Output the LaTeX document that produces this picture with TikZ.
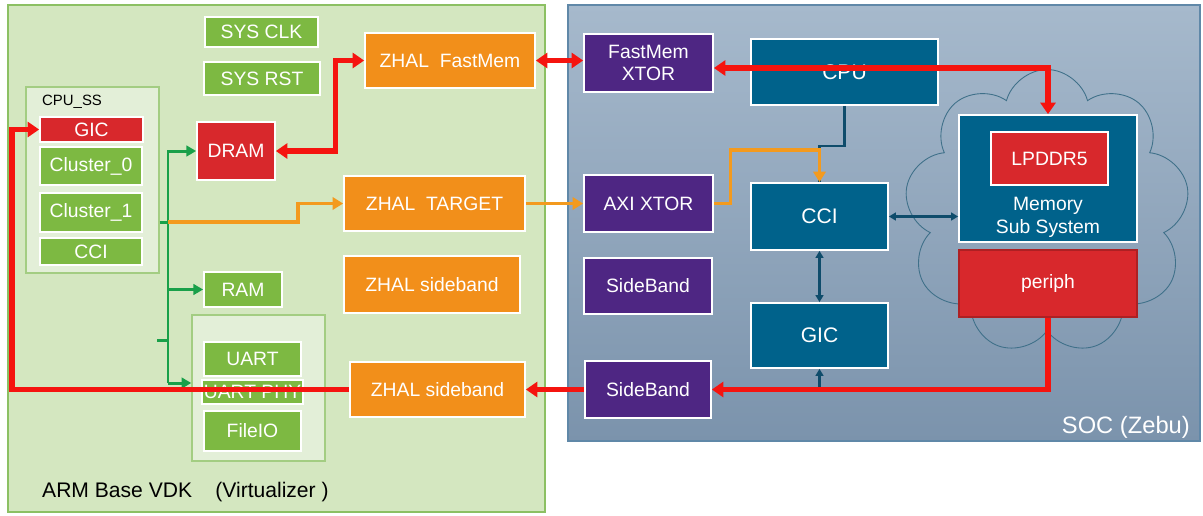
\documentclass[tikz,border=0pt]{standalone}
\usepackage{fontspec}
\setmainfont{Liberation Sans}
\usetikzlibrary{arrows.meta,positioning,calc,shapes.symbols}
\definecolor{Leaf}{HTML}{7DB942}
\definecolor{LeafPale}{HTML}{D4E7C0}
\definecolor{LeafLine}{HTML}{8CC063}
\definecolor{Mint}{HTML}{E3EFD8}
\definecolor{Brick}{HTML}{D8282C}
\definecolor{Amber}{HTML}{F28F1A}
\definecolor{Plum}{HTML}{4E2683}
\definecolor{Deep}{HTML}{00628B}
\definecolor{Navy}{HTML}{0F4C6B}
\definecolor{SkyTop}{HTML}{A6B9CC}
\definecolor{SkyBot}{HTML}{7B93AC}
\definecolor{SkyLine}{HTML}{6088A8}
\definecolor{Bus}{HTML}{19A049}
\definecolor{Wire}{HTML}{F5140F}
\definecolor{Glow}{HTML}{F39A1E}
\tikzset{
  wd/.style={minimum width=#1*0.02cm},
  ht/.style={minimum height=#1*0.02cm},
  blk/.style={draw=white,line width=1pt,text=white,align=center,inner sep=1pt,font=\fontsize{11}{13}\selectfont},
  grn/.style={blk,fill=Leaf},
  hot/.style={blk,fill=Brick},
  org/.style={blk,fill=Amber},
  prp/.style={blk,fill=Plum},
  tl/.style={blk,fill=Deep},
  grp/.style={draw=LeafLine!80,fill=Mint,line width=.8pt},
  redarr/.style={draw=Wire,line width=2.9pt,>={Triangle[length=6.5pt,width=8.5pt]}},
  orgarr/.style={draw=Glow,line width=1.8pt,>={Triangle[length=6pt,width=7pt]}},
  grnarr/.style={draw=Bus,line width=1.7pt,>={Triangle[length=5.5pt,width=6pt]}},
  tlarr/.style={draw=Navy,line width=1.2pt,>={Triangle[length=4pt,width=4.5pt]}}
}
\begin{document}
\begin{tikzpicture}[x=0.02cm,y=-0.02cm]
  \useasboundingbox (0,0) rectangle (1203,515);
  % panels
  \node[draw=LeafLine,fill=LeafPale,line width=1.2pt,wd=537,ht=507] (armp) at (276.5,258.5) {};
  \node[draw=SkyLine,top color=SkyTop,bottom color=SkyBot,line width=1pt,wd=632,ht=436] (socp) at (884,223) {};
  \node[anchor=west,font=\fontsize{12}{14}\selectfont] (armlbl) at (36,492) {ARM Base VDK\hspace{1.1em}(Virtualizer\ )};
  \node[anchor=east,text=white,font=\fontsize{13.5}{16}\selectfont] (soclbl) at (1196,427) {SOC (Zebu)};

  % virtualizer side
  \node[grn,wd=113,ht=30] (clk) at (261.5,32) {SYS CLK};
  \node[grn,wd=116,ht=33] (rst) at (262,78.5) {SYS RST};
  \node[grp,wd=133,ht=186] (cpuss) at (92.5,180) {};
  \node[anchor=west,font=\fontsize{8.5}{10}\selectfont] (sslbl) at (36,102) {CPU\_SS};
  \node[hot,wd=103,ht=25] (gicl) at (91.5,129.5) {GIC};
  \node[grn,wd=102,ht=38] (cl0) at (91,166) {Cluster\_0};
  \node[grn,wd=102,ht=39] (cl1) at (91,212.5) {Cluster\_1};
  \node[grn,wd=102,ht=27] (ccil) at (91,251.5) {CCI};
  \node[hot,wd=78,ht=58] (dram) at (236,151) {DRAM};
  \node[grn,wd=78,ht=35] (ram) at (243,289.5) {RAM};
  \node[grp,wd=133,ht=146] (uartgrp) at (258.5,388) {};
  \node[grn,wd=97,ht=34] (uart) at (252.5,359) {UART};
  \node[grn,wd=97,ht=24] (uphy) at (252.5,392) {UART PHY};
  \node[grn,wd=97,ht=40] (fio) at (252.5,431) {FileIO};
  \node[org,wd=170,ht=55] (zfm) at (450,60.5) {ZHAL\ \ FastMem};
  \node[org,wd=181,ht=55] (ztg) at (434.5,203.5) {ZHAL\ \ TARGET};
  \node[org,wd=176,ht=57] (zsb1) at (432,284.5) {ZHAL sideband};
  \node[org,wd=175,ht=55] (zsb2) at (437.5,389.5) {ZHAL sideband};

  % zebu side
  \node[prp,wd=129,ht=58] (fmx) at (648.5,63) {FastMem\\XTOR};
  \node[prp,wd=129,ht=57] (axi) at (648.5,203.5) {AXI XTOR};
  \node[prp,wd=128,ht=56] (sb1) at (648,286) {SideBand};
  \node[prp,wd=126,ht=57] (sb2) at (648,389.5) {SideBand};
  \node[tl,wd=187,ht=66,font=\fontsize{12}{14}\selectfont] (cpu) at (844.5,72) {\raisebox{-4pt}{CPU}};
  \node[tl,wd=137,ht=67,font=\fontsize{12}{14}\selectfont] (cci) at (819.5,216.5) {CCI};
  \node[tl,wd=137,ht=65,font=\fontsize{12}{14}\selectfont] (gic) at (819.5,335.5) {GIC};
  \node[cloud,cloud puffs=9,aspect=1,draw=Navy!80,line width=.5pt,minimum width=5.7cm,minimum height=5.7cm] (cld) at (1047,212) {};
  \node[tl,wd=178,ht=127] (mss) at (1048,178.5) {};
  \node[hot,wd=117,ht=53] (lp) at (1049.5,158.5) {LPDDR5};
  \node[blk,draw=none] (msslbl) at (1048,217) {Memory\\Sub System};
  \node[hot,draw=Brick!80!black,line width=.6pt,wd=178,ht=67] (per) at (1048,283.5) {periph};

  % green bus
  \coordinate (bt) at (168,151);
  \coordinate (bb) at (168,383);
  \coordinate (tap) at (168,222);
  \coordinate (stub) at (157,340);
  \draw[grnarr,->] (bb) -- (bt) -- (dram.west);
  \draw[grnarr,->] (bt |- ram.west) -- (ram.west);
  \draw[grnarr,->] (bb) -- (bb -| uartgrp.west);
  \draw[grnarr] (cpuss.east |- tap) -- (tap);
  \draw[grnarr] (stub) -- (stub -| bb);

  % orange paths
  \draw[orgarr,->] (tap) -- (298,222) |- (ztg.west);
  \draw[orgarr,->] (ztg.east) -- (axi.west);
  \draw[tlarr] (cpu.south) -- ++(0,40) -| (cci.north);
  \coordinate (jn) at (819.5,150);
  \draw[orgarr,->] (axi.east) -- ++(17,0) |- (jn) -- (cci.north);

  % teal links
  \draw[tlarr,<->] (cci.east) -- (cci.east -| mss.west);
  \draw[tlarr,<->] (cci.south) -- (gic.north);
  \draw[tlarr,->] (gic.south |- sb2.east) -- (gic.south);

  % red paths
  \draw[redarr,<->] ($(fmx.east)+(0,5)$) -| (mss.north);
  \draw[redarr,<->] (zfm.east) -- (zfm.east -| fmx.west);
  \draw[redarr,<->] (dram.east) -- ++(60,0) |- (zfm.west);
  \draw[redarr,->] (per.south) |- (sb2.east);
  \draw[redarr,->] (sb2.west) -- (zsb2.east);
  \coordinate (lc) at (12,392);
  \draw[redarr,->] (zsb2.west) -- (zsb2.west -| lc) |- (gicl.west);
\end{tikzpicture}
\end{document}
